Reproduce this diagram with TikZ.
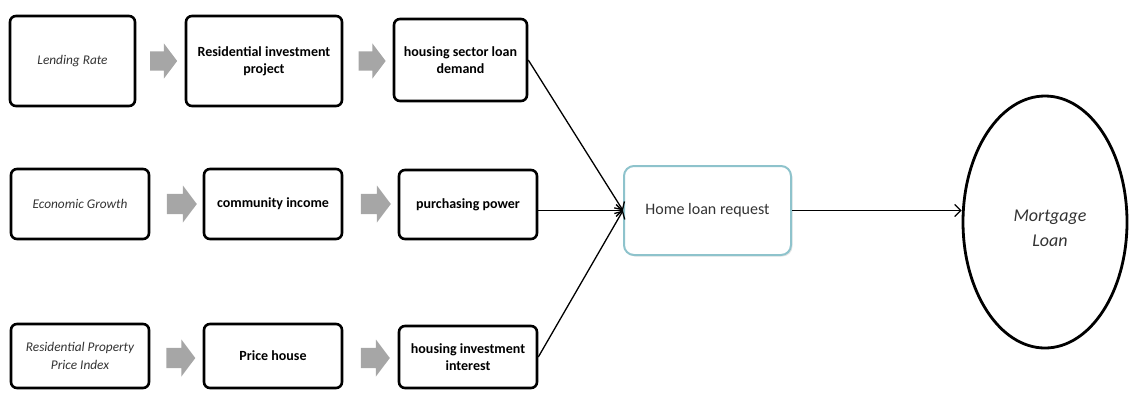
\documentclass[tikz,border=0pt]{standalone}
\usepackage{fontspec}
\setmainfont{Carlito}
\usetikzlibrary{shapes.geometric,shapes.arrows,arrows.meta,shadows}
\definecolor{arrowgray}{HTML}{A6A6A6}
\definecolor{tealline}{HTML}{8EC3CC}
\definecolor{softtext}{HTML}{333333}
\begin{document}
\begin{tikzpicture}[x=1pt,y=-1pt,
  boxbase/.style={draw=black,line width=2.6pt,rounded corners=6pt,fill=white,align=center,inner sep=2pt},
  ibox/.style={boxbase,font=\fontsize{13.3}{18}\selectfont\itshape,text=softtext},
  bbox/.style={boxbase,font=\fontsize{14}{17}\selectfont\bfseries,text=black},
  blockarrow/.style={single arrow,fill=arrowgray,draw=none,inner sep=9.5pt,
     minimum width=35pt,minimum height=27pt,single arrow head extend=8pt,
     single arrow tip angle=106},
  conn/.style={line width=1.3pt,-{Straight Barb[length=6pt,width=12pt,line width=1.3pt]}}
]
\useasboundingbox (0,0) rectangle (1131,392);
% row 1
\node[ibox,minimum width=125,minimum height=90] (lr) at (72.5,61) {Lending Rate};
\node[blockarrow] (a11) at (160,61) {};
\node[bbox,minimum width=156,minimum height=90] (rip) at (264,61) {Residential investment\\project};
\node[blockarrow] (a12) at (368.5,61) {};
\node[bbox,minimum width=133,minimum height=82] (hsld) at (460.5,60) {housing sector loan\\demand};
% row 2
\node[ibox,minimum width=138,minimum height=70] (eg) at (80,204) {Economic Growth};
\node[blockarrow,minimum height=30pt,minimum width=37pt] (a21) at (178,204) {};
\node[bbox,minimum width=138,minimum height=70] (ci) at (273,204) {community income};
\node[blockarrow,minimum height=30pt,minimum width=37pt] (a22) at (372,204) {};
\node[bbox,minimum width=138,minimum height=69] (pp) at (468,204.5) {purchasing power};
% row 3
\node[ibox,minimum width=138,minimum height=64] (rppi) at (80,356) {Residential Property\\Price Index};
\node[blockarrow,minimum height=29pt,minimum width=37pt] (a31) at (177,358) {};
\node[bbox,minimum width=138,minimum height=64] (ph) at (273,356) {Price house};
\node[blockarrow,minimum height=29pt,minimum width=37pt] (a32) at (371.5,358) {};
\node[bbox,minimum width=138,minimum height=62] (hii) at (468,357) {housing investment\\interest};
% centre
\node[draw=tealline,line width=2pt,rounded corners=10pt,fill=white,
      drop shadow={opacity=0.2,shadow xshift=1.5pt,shadow yshift=-1.5pt},
      minimum width=167,minimum height=89,font=\fontsize{16}{19}\selectfont,text=softtext]
      (hl) at (707.5,210.5) {Home loan request};
\node[ellipse,draw=black,line width=2.8pt,minimum width=164,minimum height=252,
      align=center,font=\fontsize{18}{25}\selectfont\itshape,text=softtext,
      text depth=0pt]
      (ml) at (1045,222) {};
\node[align=center,font=\fontsize{18}{25}\selectfont\itshape,text=softtext,inner sep=0pt]
      (mltext) at (1050,228) {Mortgage\\Loan};
% connectors
\draw[conn] (hsld.east) -- (hl.west);
\draw[conn] (pp.east |- hl.west) -- (hl.west);
\draw[conn] (hii.east) -- (hl.west);
\draw[conn] (hl.east) -- (hl.east -| ml.west);
\end{tikzpicture}
\end{document}
